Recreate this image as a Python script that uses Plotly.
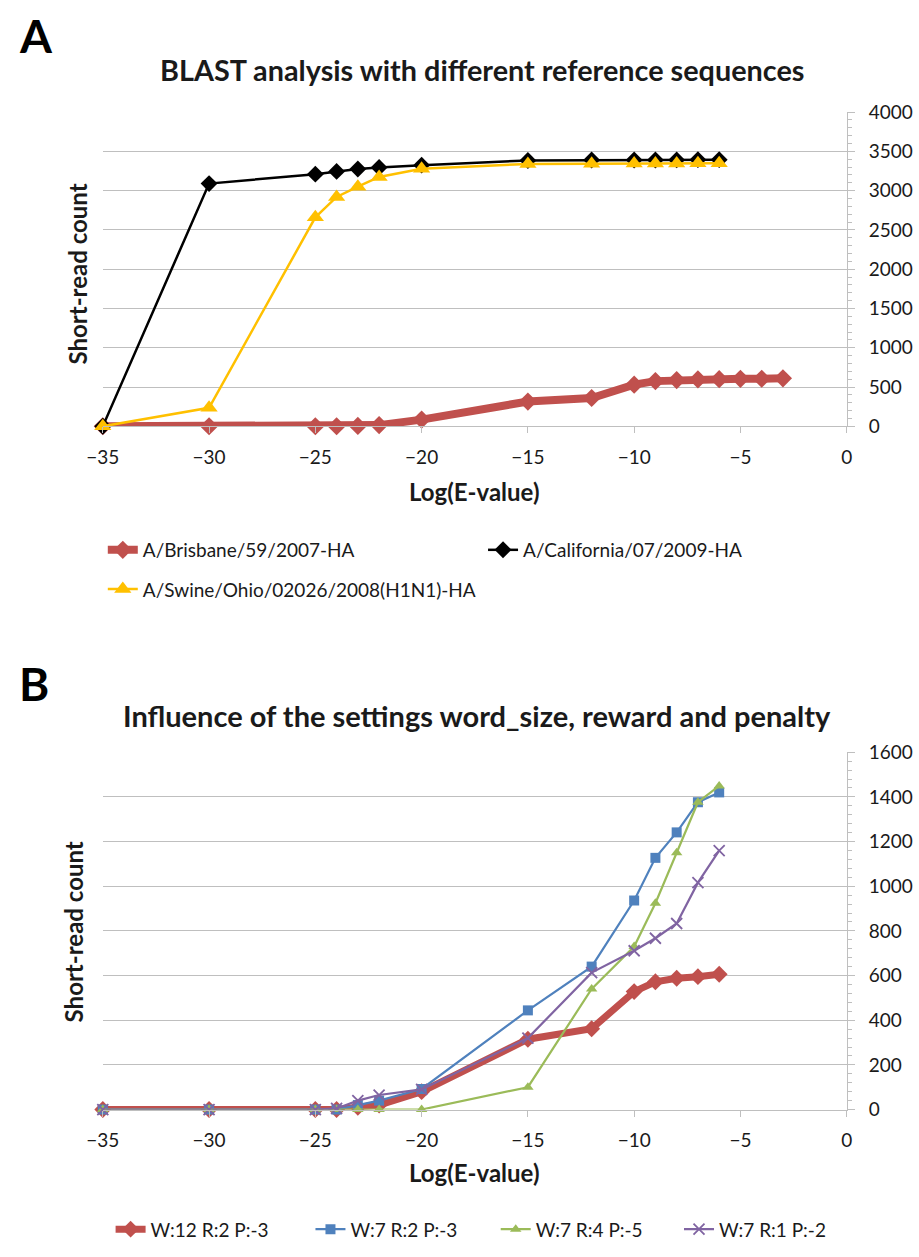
import plotly.graph_objects as go

# ---------------- Data ----------------
# Panel A
xa_bris = [-35, -30, -25, -24, -23, -22, -20, -15, -12, -10, -9, -8, -7, -6, -5, -4, -3]
ya_bris = [0, 0, 0, 0, 5, 15, 85, 315, 360, 530, 575, 588, 596, 600, 604, 605, 610]
xa_cal = [-35, -30, -25, -24, -23, -22, -20, -15, -12, -10, -9, -8, -7, -6]
ya_cal = [0, 3090, 3210, 3245, 3275, 3295, 3325, 3385, 3390, 3390, 3390, 3392, 3395, 3395]
xa_swine = [-35, -30, -25, -24, -23, -22, -20, -15, -12, -10, -9, -8, -7, -6]
ya_swine = [0, 235, 2660, 2920, 3050, 3175, 3280, 3340, 3342, 3345, 3345, 3345, 3348, 3350]

# Panel B
xb = [-35, -30, -25, -24, -23, -22, -20, -15, -12, -10, -9, -8, -7, -6]
yb_w12 = [0, 0, 0, 0, 10, 20, 80, 315, 362, 528, 572, 588, 595, 606]
yb_w7r2 = [0, 0, 0, 0, 20, 40, 92, 444, 640, 936, 1127, 1241, 1376, 1420]
yb_w7r4 = [0, 0, 0, 0, 0, 0, 0, 100, 540, 730, 924, 1150, 1376, 1449]
yb_w7r1 = [0, 0, 0, 5, 40, 65, 90, 320, 613, 711, 767, 833, 1016, 1159]

names_a = ["A/Brisbane/59/2007-HA", "A/California/07/2009-HA", "A/Swine/Ohio/02026/2008(H1N1)-HA"]
names_b = ["W:12 R:2 P:-3", "W:7 R:2 P:-3", "W:7 R:4 P:-5", "W:7 R:1 P:-2"]
x_ticks = [-35, -30, -25, -20, -15, -10, -5, 0]

# ---------------- Style ----------------
W, H = 919, 1257
FONT = "Lato"
GRID = "#BFBFBF"
TXT = "#1a1a1a"
RED = "#C0504D"
BLACK = "#000000"
YEL = "#FFC000"
BLUE = "#4F81BD"
GREEN = "#9BBB59"
PURP = "#8064A2"


def px_x(p):
    return p / W


def px_y(p):
    return 1 - p / H


fig = go.Figure()

# Panel A traces
fig.add_trace(go.Scatter(x=xa_bris, y=ya_bris, name=names_a[0], mode="lines+markers",
                         line=dict(color=RED, width=8),
                         marker=dict(symbol="diamond", size=14, color=RED),
                         xaxis="x", yaxis="y", cliponaxis=False, legend="legend"))
fig.add_trace(go.Scatter(x=xa_cal, y=ya_cal, name=names_a[1], mode="lines+markers",
                         line=dict(color=BLACK, width=2.5),
                         marker=dict(symbol="diamond", size=13, color=BLACK),
                         xaxis="x", yaxis="y", cliponaxis=False, legend="legend2"))
fig.add_trace(go.Scatter(x=xa_swine, y=ya_swine, name=names_a[2], mode="lines+markers",
                         line=dict(color=YEL, width=2.5),
                         marker=dict(symbol="triangle-up", size=15, color=YEL),
                         xaxis="x", yaxis="y", cliponaxis=False, legend="legend3"))

# Panel B traces
fig.add_trace(go.Scatter(x=xb, y=yb_w12, name=names_b[0], mode="lines+markers",
                         line=dict(color=RED, width=7),
                         marker=dict(symbol="diamond", size=13, color=RED),
                         xaxis="x2", yaxis="y2", cliponaxis=False, legend="legend4"))
fig.add_trace(go.Scatter(x=xb, y=yb_w7r2, name=names_b[1], mode="lines+markers",
                         line=dict(color=BLUE, width=2.2),
                         marker=dict(symbol="square", size=10, color=BLUE),
                         xaxis="x2", yaxis="y2", cliponaxis=False, legend="legend5"))
fig.add_trace(go.Scatter(x=xb, y=yb_w7r4, name=names_b[2], mode="lines+markers",
                         line=dict(color=GREEN, width=2.2),
                         marker=dict(symbol="triangle-up", size=10, color=GREEN),
                         xaxis="x2", yaxis="y2", cliponaxis=False, legend="legend6"))
fig.add_trace(go.Scatter(x=xb, y=yb_w7r1, name=names_b[3], mode="lines+markers",
                         line=dict(color=PURP, width=2.2),
                         marker=dict(symbol="x-thin-open", size=11, color=PURP,
                                     line=dict(color=PURP, width=1.8)),
                         xaxis="x2", yaxis="y2", cliponaxis=False, legend="legend7"))

xaxis_common = dict(range=[-35, 0], tickvals=x_ticks, showgrid=False, zeroline=False,
                    showline=True, linecolor=GRID, linewidth=1.3,
                    ticks="outside", ticklen=6, tickcolor=GRID, tickwidth=1.3,
                    tickfont=dict(family=FONT, size=19, color=TXT),
                    ticklabelstandoff=8, fixedrange=True)

yaxis_common = dict(side="right", showgrid=True, gridcolor=GRID, gridwidth=1.3,
                    zeroline=False, showline=True, linecolor=GRID, linewidth=1.3,
                    ticks="outside", ticklen=7, tickcolor=GRID, tickwidth=1.3,
                    tickfont=dict(family=FONT, size=19, color=TXT),
                    ticklabelstandoff=10, fixedrange=True)

fig.update_layout(
    width=W, height=H,
    margin=dict(l=0, r=0, t=0, b=0),
    paper_bgcolor="white", plot_bgcolor="white",
    font=dict(family=FONT, color=TXT),
    xaxis=dict(domain=[px_x(88), px_x(851)], anchor="y", **xaxis_common),
    yaxis=dict(domain=[px_y(422), px_y(102)], anchor="x", range=[0, 4000], dtick=500,
               minor=dict(dtick=100, ticks="outside", ticklen=4, tickcolor=GRID, showgrid=False),
               **yaxis_common),
    xaxis2=dict(domain=[px_x(88), px_x(851)], anchor="y2", **xaxis_common),
    yaxis2=dict(domain=[px_y(1118), px_y(754)], anchor="x2", range=[0, 1600], dtick=200,
                minor=dict(dtick=40, ticks="outside", ticklen=4, tickcolor=GRID, showgrid=False),
                **yaxis_common),
    showlegend=True,
)

leg_font = dict(family=FONT, size=19, color=TXT)


def leg(xp, yp):
    return dict(x=px_x(xp), y=px_y(yp), xanchor="left", yanchor="middle",
                orientation="h", bgcolor="rgba(0,0,0,0)", font=leg_font,
                itemwidth=30)


fig.update_layout(
    legend=leg(88, 548),
    legend2=leg(478, 548),
    legend3=leg(88, 588),
    legend4=leg(96, 1240),
    legend5=leg(301, 1240),
    legend6=leg(491, 1240),
    legend7=leg(679, 1240),
)

annotations = [
    dict(text="<b>A</b>", x=px_x(0), y=px_y(24), xanchor="left", yanchor="middle",
         font=dict(family=FONT, size=46, color="black")),
    dict(text="<b>BLAST analysis with different reference sequences</b>", x=px_x(477), y=px_y(59),
         xanchor="center", yanchor="middle", font=dict(family=FONT, size=28.8, color=TXT)),
    dict(text="<b>Short-read count</b>", x=px_x(62), y=px_y(267), xanchor="center", yanchor="middle",
         textangle=-90, font=dict(family=FONT, size=24, color=TXT)),
    dict(text="<b>Log(E-value)</b>", x=px_x(469), y=px_y(488), xanchor="center", yanchor="middle",
         font=dict(family=FONT, size=24, color=TXT)),
    dict(text="<b>B</b>", x=px_x(0), y=px_y(684), xanchor="left", yanchor="middle",
         font=dict(family=FONT, size=46, color="black")),
    dict(text="<b>Influence of the settings word_size, reward and penalty</b>", x=px_x(472), y=px_y(717),
         xanchor="center", yanchor="middle", font=dict(family=FONT, size=29, color=TXT)),
    dict(text="<b>Short-read count</b>", x=px_x(58), y=px_y(937), xanchor="center", yanchor="middle",
         textangle=-90, font=dict(family=FONT, size=24, color=TXT)),
    dict(text="<b>Log(E-value)</b>", x=px_x(469), y=px_y(1182), xanchor="center", yanchor="middle",
         font=dict(family=FONT, size=24, color=TXT)),
]
for a in annotations:
    a.update(xref="paper", yref="paper", showarrow=False)
fig.update_layout(annotations=annotations)

fig.write_html("out.html")
